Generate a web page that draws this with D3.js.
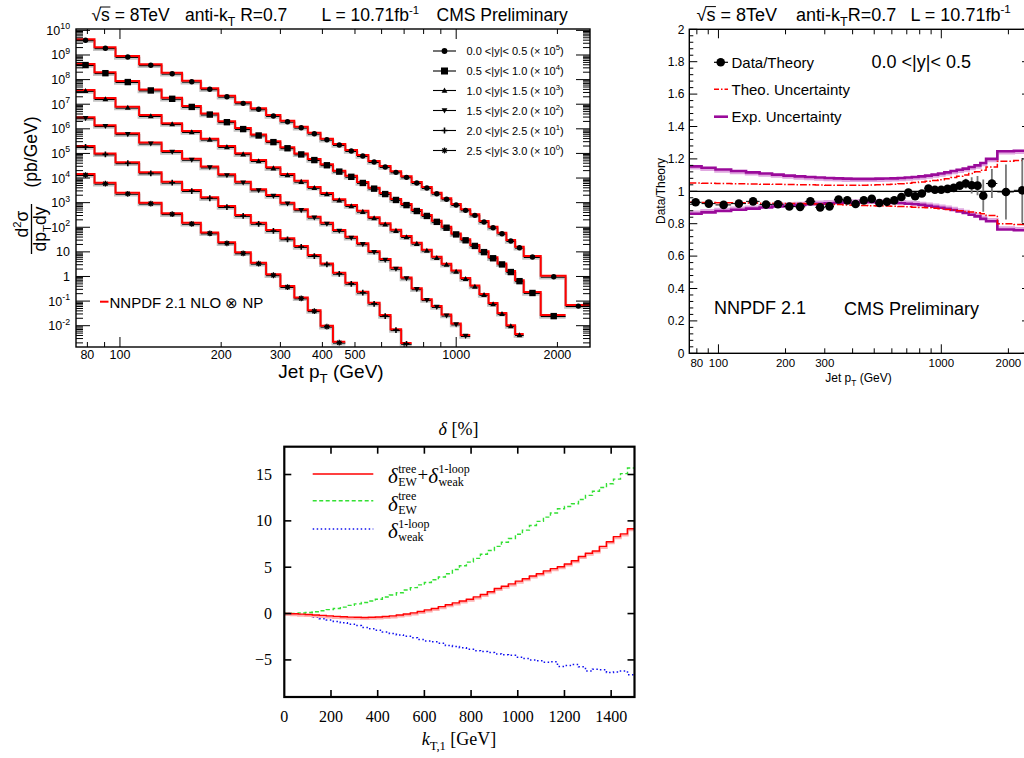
<!DOCTYPE html>
<html>
<head>
<meta charset="utf-8">
<script src="https://cdn.jsdelivr.net/npm/d3@7"></script>
<style>
html,body{margin:0;padding:0;background:#fff;}
svg{display:block;}
</style>
</head>
<body>
<svg id="chart" width="1024" height="758" xmlns="http://www.w3.org/2000/svg"></svg>
<script>
// ======================= DATA =======================
// jet pT bin edges (GeV)
const ptEdges = [74, 84, 97, 114, 133, 153, 174, 196, 220, 245, 272, 300, 330, 362, 395, 430, 468, 507, 548, 592, 638, 686, 737, 790, 846, 905, 967, 1032, 1101, 1172, 1248, 1327, 1410, 1497, 1588, 1784, 2116, 2500];
const rapRanges = ["0.0 <|y|< 0.5", "0.5 <|y|< 1.0", "1.0 <|y|< 1.5", "1.5 <|y|< 2.0", "2.0 <|y|< 2.5", "2.5 <|y|< 3.0"];
const scalePowers = [5, 4, 3, 2, 1, 0];
const markerTypes = ["circle", "square", "triUp", "triDown", "plus", "star"];
// d2sigma/dpT dy (pb/GeV), unscaled
const xsecY00 = [4.35e4, 2.06e4, 9.10e3, 4.19e3, 1.91e3, 902, 443, 222, 119, 68.1, 36.4, 21.3, 12.2, 6.93, 3.96, 2.41, 1.37, 0.861, 0.491, 0.308, 0.187, 0.117, 0.0687, 0.0431, 0.0252, 0.0150, 8.77e-3, 5.35e-3, 3.34e-3, 1.79e-3, 1.05e-3, 5.97e-4, 3.02e-4, 1.61e-4, 6.75e-5, 1.07e-5, 6.87e-7];
const xsecY05 = [4.27e4, 2.0e4, 8.71e3, 3.98e3, 1.82e3, 851, 417, 204, 107, 58.9, 31.6, 17.8, 10.0, 5.89, 3.63, 2.0, 1.23, 0.692, 0.407, 0.245, 0.141, 0.0871, 0.0501, 0.0316, 0.0182, 0.0105, 5.62e-3, 3.24e-3, 1.91e-3, 1.07e-3, 6.03e-4, 3.39e-4, 1.66e-4, 7.08e-5, 2.34e-5, 2.69e-6];
const xsecY10 = [3.80e4, 1.78e4, 7.94e3, 3.63e3, 1.70e3, 813, 398, 200, 102, 53.7, 27.5, 14.5, 7.76, 4.37, 2.45, 1.38, 0.794, 0.468, 0.257, 0.145, 0.0794, 0.0437, 0.0234, 0.0123, 6.31e-3, 3.31e-3, 1.74e-3, 8.71e-4, 4.27e-4, 1.95e-4, 8.32e-5, 3.31e-5, 1.05e-5, 4.57e-6];
const xsecY15 = [2.95e4, 1.41e4, 6.61e3, 2.75e3, 1.26e3, 603, 295, 141, 70.8, 34.7, 20.4, 10.0, 5.37, 2.69, 1.51, 0.776, 0.407, 0.224, 0.107, 0.0513, 0.0224, 9.12e-3, 3.31e-3, 1.20e-3, 6.31e-4, 2.82e-4, 1.23e-4, 4.17e-5];
const xsecY20 = [2.0e4, 1.0e4, 4.37e3, 1.70e3, 708, 324, 166, 72.4, 31.6, 15.1, 7.76, 3.55, 1.74, 0.741, 0.339, 0.141, 0.0550, 0.0240, 8.51e-3, 2.69e-3, 7.24e-4, 2.0e-4];
const xsecY25 = [1.45e4, 6.46e3, 2.51e3, 1.0e3, 372, 151, 61.7, 24.5, 9.55, 3.63, 1.23, 0.407, 0.141, 0.0427, 0.01, 2.24e-3];
const spectrumXTicks = [80, 100, 200, 300, 400, 500, 1000, 2000];

// ratio panel (0.0<|y|<0.5)
const dataOverTheory = [0.932, 0.924, 0.916, 0.924, 0.938, 0.918, 0.920, 0.906, 0.904, 0.938, 0.901, 0.907, 0.949, 0.944, 0.922, 0.944, 0.953, 0.928, 0.935, 0.944, 0.965, 0.992, 0.969, 0.986, 1.017, 1.010, 1.010, 1.015, 1.021, 1.035, 1.048, 1.037, 1.035, 0.973, 1.048, 0.996, 1.006];
const dataOverTheoryErr = [0.004, 0.004, 0.004, 0.004, 0.004, 0.004, 0.004, 0.004, 0.004, 0.004, 0.004, 0.004, 0.004, 0.005, 0.005, 0.005, 0.005, 0.005, 0.005, 0.006, 0.006, 0.007, 0.008, 0.009, 0.010, 0.011, 0.012, 0.014, 0.017, 0.020, 0.030, 0.050, 0.060, 0.100, 0.090, 0.170, 0.200];
const theoUncUp = [1.052, 1.050, 1.048, 1.046, 1.045, 1.044, 1.043, 1.042, 1.041, 1.040, 1.039, 1.038, 1.037, 1.037, 1.037, 1.038, 1.039, 1.040, 1.042, 1.044, 1.047, 1.050, 1.054, 1.058, 1.062, 1.067, 1.072, 1.078, 1.085, 1.093, 1.100, 1.110, 1.120, 1.130, 1.150, 1.185, 1.190];
const theoUncDown = [0.932, 0.931, 0.930, 0.929, 0.928, 0.927, 0.926, 0.925, 0.924, 0.923, 0.922, 0.920, 0.918, 0.916, 0.914, 0.912, 0.911, 0.910, 0.909, 0.908, 0.906, 0.904, 0.902, 0.900, 0.898, 0.895, 0.892, 0.888, 0.884, 0.880, 0.876, 0.872, 0.868, 0.862, 0.850, 0.800, 0.795];
const expUncUp = [1.154, 1.145, 1.135, 1.125, 1.117, 1.110, 1.103, 1.097, 1.092, 1.088, 1.085, 1.082, 1.080, 1.078, 1.077, 1.077, 1.077, 1.078, 1.079, 1.080, 1.082, 1.085, 1.088, 1.092, 1.097, 1.103, 1.110, 1.117, 1.125, 1.133, 1.140, 1.150, 1.160, 1.175, 1.200, 1.247, 1.250];
const expUncDown = [0.861, 0.870, 0.878, 0.886, 0.893, 0.900, 0.906, 0.911, 0.916, 0.920, 0.923, 0.926, 0.928, 0.930, 0.931, 0.932, 0.932, 0.931, 0.930, 0.928, 0.926, 0.923, 0.920, 0.916, 0.911, 0.905, 0.898, 0.892, 0.885, 0.876, 0.866, 0.855, 0.845, 0.830, 0.815, 0.764, 0.760];
const ratioXTicks = [80, 100, 200, 300, 1000, 2000];
const ratioYTicks = [0, 0.2, 0.4, 0.6, 0.8, 1, 1.2, 1.4, 1.6, 1.8, 2];

// EW corrections panel: 30 GeV bins from 0 to 1500
const ktBinWidth = 30;
const deltaSum = [0.0, -0.02, -0.06, -0.10, -0.15, -0.20, -0.25, -0.30, -0.34, -0.38, -0.40, -0.42, -0.40, -0.37, -0.32, -0.25, -0.15, -0.05, 0.08, 0.22, 0.40, 0.55, 0.75, 0.95, 1.15, 1.35, 1.55, 1.80, 2.05, 2.35, 2.70, 2.95, 3.20, 3.50, 3.75, 4.05, 4.30, 4.60, 4.85, 5.05, 5.35, 5.70, 6.15, 6.50, 6.75, 7.25, 7.75, 8.30, 8.60, 9.15];
const deltaTree = [0.0, 0.02, 0.06, 0.12, 0.20, 0.30, 0.42, 0.55, 0.70, 0.88, 1.05, 1.20, 1.35, 1.55, 1.78, 2.00, 2.25, 2.55, 2.80, 3.10, 3.35, 3.65, 3.95, 4.30, 4.75, 5.15, 5.55, 5.95, 6.40, 6.80, 7.25, 7.70, 8.10, 8.55, 9.00, 9.50, 9.95, 10.40, 10.85, 11.30, 11.55, 11.85, 12.30, 12.75, 13.20, 13.60, 14.00, 14.50, 15.10, 15.70];
const deltaWeak = [0.0, -0.05, -0.12, -0.25, -0.40, -0.55, -0.70, -0.85, -1.00, -1.15, -1.30, -1.50, -1.65, -1.80, -2.00, -2.15, -2.30, -2.45, -2.60, -2.80, -2.95, -3.05, -3.20, -3.45, -3.55, -3.70, -3.85, -4.00, -4.10, -4.20, -4.35, -4.45, -4.50, -4.70, -4.85, -5.00, -5.10, -5.25, -5.20, -5.70, -5.60, -5.50, -5.75, -6.20, -6.00, -6.05, -6.35, -6.30, -6.20, -6.60];
const deltaXTicks = [0, 200, 400, 600, 800, 1000, 1200, 1400];
const deltaYTicks = [-5, 0, 5, 10, 15];

// ======================= DRAWING =======================
const svg = d3.select('#chart');
const SANS = '"Liberation Sans", Arial, Helvetica, sans-serif';
const SERIF = '"Liberation Serif", "Times New Roman", serif';

function rich(parent, x, y, parts, size, opts) {
  opts = opts || {};
  const t = parent.append('text').attr('x', x).attr('y', y)
    .style('font-family', opts.family || SANS).style('font-size', size + 'px').attr('fill', '#000');
  if (opts.anchor) t.attr('text-anchor', opts.anchor);
  if (opts.italic) t.style('font-style', 'italic');
  let cur = 0;
  parts.forEach(p => {
    const target = p.sup ? -size * (p.shift || 0.42) : (p.sub ? size * (p.shift || 0.28) : 0);
    const ts = t.append('tspan').attr('dy', target - cur).text(p.t);
    cur = target;
    if (p.sup || p.sub) ts.style('font-size', (size * (p.scale || 0.65)) + 'px');
    if (p.italic) ts.style('font-style', 'italic');
  });
  return t;
}

function sqrtS(parent, x, y, size) {
  const t = parent.append('text').attr('x', x).attr('y', y)
    .style('font-family', SANS).style('font-size', size + 'px').text('√s = 8TeV');
  const n = t.node();
  const w1 = n.getSubStringLength(0, 1), w2 = n.getSubStringLength(1, 1);
  parent.append('line').attr('x1', x + w1 - 1).attr('x2', x + w1 + w2 + 0.5)
    .attr('y1', y - size * 0.8).attr('y2', y - size * 0.8).attr('stroke', '#000').attr('stroke-width', 1);
}

function drawMarker(g, type, cx, cy, s) {
  const k = '#000';
  if (type === 'circle') {
    g.append('circle').attr('cx', cx).attr('cy', cy).attr('r', s).attr('fill', k);
  } else if (type === 'square') {
    g.append('rect').attr('x', cx - s).attr('y', cy - s).attr('width', 2 * s).attr('height', 2 * s).attr('fill', k);
  } else if (type === 'triUp') {
    g.append('path').attr('d', `M${cx},${cy - s}L${cx + s},${cy + s * 0.75}L${cx - s},${cy + s * 0.75}Z`).attr('fill', k);
  } else if (type === 'triDown') {
    g.append('path').attr('d', `M${cx},${cy + s}L${cx + s},${cy - s * 0.75}L${cx - s},${cy - s * 0.75}Z`).attr('fill', k);
  } else if (type === 'plus') {
    g.append('path').attr('d', `M${cx - s},${cy}H${cx + s}M${cx},${cy - s}V${cy + s}`).attr('stroke', k).attr('stroke-width', 1.6).attr('fill', 'none');
  } else if (type === 'star') {
    const d = s * 0.72;
    g.append('path').attr('d', `M${cx - s},${cy}H${cx + s}M${cx},${cy - s}V${cy + s}M${cx - d},${cy - d}L${cx + d},${cy + d}M${cx - d},${cy + d}L${cx + d},${cy - d}`)
      .attr('stroke', k).attr('stroke-width', 1.3).attr('fill', 'none');
  }
}

function stepPoints(edges, vals) {
  const pts = vals.map((v, i) => [edges[i], v]);
  pts.push([edges[vals.length], vals[vals.length - 1]]);
  return pts;
}

function logTicks(domain) {
  const out = [];
  const e0 = Math.floor(Math.log10(domain[0])), e1 = Math.ceil(Math.log10(domain[1]));
  for (let e = e0; e <= e1; e++) for (let m = 1; m <= 9; m++) {
    const v = m * Math.pow(10, e);
    if (v >= domain[0] * 0.9999 && v <= domain[1] * 1.0001) out.push({ v: v, major: m === 1 });
  }
  return out;
}

// ---------------- Panel 1: spectra ----------------
(function () {
  const P = { l: 76, r: 590, t: 29, b: 347 };
  const x = d3.scaleLog().domain([74, 2500]).range([P.l, P.r]);
  const yDom = [Math.pow(10, -2.866), Math.pow(10, 10.056)];
  const y = d3.scaleLog().domain(yDom).range([P.b, P.t]);
  const g = svg.append('g');
  svg.append('clipPath').attr('id', 'clip1').append('rect').attr('x', P.l).attr('y', P.t).attr('width', P.r - P.l).attr('height', P.b - P.t);
  const gd = g.append('g').attr('clip-path', 'url(#clip1)');

  const series = [xsecY00, xsecY05, xsecY10, xsecY15, xsecY20, xsecY25];
  const line = d3.line().x(d => x(d[0])).y(d => y(d[1])).curve(d3.curveStepAfter);
  series.forEach((vals, s) => {
    const f = Math.pow(10, scalePowers[s]);
    const scaled = vals.map(v => v * f);
    const pts = stepPoints(ptEdges, scaled);
    gd.append('path').attr('d', line(pts)).attr('transform', 'translate(0,2.2)')
      .attr('fill', 'none').attr('stroke', '#c4c4c4').attr('stroke-width', 3);
    scaled.forEach((v, i) => {
      gd.append('line').attr('x1', x(ptEdges[i])).attr('x2', x(ptEdges[i + 1]))
        .attr('y1', y(v) + 1.4).attr('y2', y(v) + 1.4).attr('stroke', '#000').attr('stroke-width', 1.1);
    });
    gd.append('path').attr('d', line(pts)).attr('fill', 'none').attr('stroke', '#ff0000').attr('stroke-width', 2);
    scaled.forEach((v, i) => {
      const cx = x((ptEdges[i] + ptEdges[i + 1]) / 2);
      const sz = markerTypes[s] === 'square' ? 3.2 : (markerTypes[s] === 'circle' ? 2.7 : 2.9);
      drawMarker(gd, markerTypes[s], cx, y(v) + 1, sz);
    });
  });

  g.append('rect').attr('x', P.l).attr('y', P.t).attr('width', P.r - P.l).attr('height', P.b - P.t)
    .attr('fill', 'none').attr('stroke', '#000').attr('stroke-width', 1.4);
  logTicks(yDom).forEach(t => {
    const yy = y(t.v), L = t.major ? 14 : 7;
    g.append('line').attr('x1', P.l).attr('x2', P.l + L).attr('y1', yy).attr('y2', yy).attr('stroke', '#000').attr('stroke-width', 1);
    g.append('line').attr('x1', P.r).attr('x2', P.r - L).attr('y1', yy).attr('y2', yy).attr('stroke', '#000').attr('stroke-width', 1);
  });
  for (let e = -2; e <= 10; e++) {
    const yy = y(Math.pow(10, e));
    if (e === 0) rich(g, 70, yy + 4.5, [{ t: '1' }], 12.5, { anchor: 'end' });
    else if (e === 1) rich(g, 70, yy + 4.5, [{ t: '10' }], 12.5, { anchor: 'end' });
    else rich(g, 70, yy + 4.5, [{ t: '10' }, { t: String(e), sup: true, scale: 0.7, shift: 0.45 }], 12.5, { anchor: 'end' });
  }
  logTicks([74, 2500]).forEach(t => {
    const xx = x(t.v), L = t.major ? 10 : 5;
    g.append('line').attr('x1', xx).attr('x2', xx).attr('y1', P.b).attr('y2', P.b - L).attr('stroke', '#000').attr('stroke-width', 1);
    g.append('line').attr('x1', xx).attr('x2', xx).attr('y1', P.t).attr('y2', P.t + L).attr('stroke', '#000').attr('stroke-width', 1);
  });
  spectrumXTicks.forEach(v => {
    g.append('text').attr('x', x(v)).attr('y', 359).attr('text-anchor', 'middle')
      .style('font-family', SANS).style('font-size', '12.5px').text(v);
  });
  rich(g, 331, 377.5, [{ t: 'Jet p' }, { t: 'T', sub: true, scale: 0.7, shift: 0.3 }, { t: ' (GeV)' }], 19, { anchor: 'middle' });
  const yt = g.append('g').attr('transform', 'rotate(-90)');
  rich(yt, -152, 37, [{ t: '(pb/GeV)' }], 17.5, { anchor: 'middle' });
  rich(yt, -224, 28, [{ t: 'd' }, { t: '2', sup: true, scale: 0.65 }, { t: 'σ' }], 17.5, { anchor: 'middle' });
  g.append('line').attr('x1', 31.5).attr('x2', 31.5).attr('y1', 204).attr('y2', 254).attr('stroke', '#000').attr('stroke-width', 1.3);
  rich(yt, -229, 46, [{ t: 'dp' }, { t: 'T', sub: true, scale: 0.65, shift: 0.3 }, { t: 'dy' }], 17.5, { anchor: 'middle' });

  sqrtS(svg, 91.5, 21, 17.5);
  rich(svg, 185, 21, [{ t: 'anti-k' }, { t: 'T', sub: true, scale: 0.7, shift: 0.3 }, { t: ' R=0.7' }], 17.5);
  rich(svg, 321.5, 21, [{ t: 'L = 10.71fb' }, { t: '-1', sup: true, scale: 0.65 }], 17.5);
  rich(svg, 436.5, 21, [{ t: 'CMS Preliminary' }], 17.5);

  const rows = [51, 71, 90.5, 110.5, 130.5, 150.5];
  rows.forEach((ry, s) => {
    g.append('line').attr('x1', 433).attr('x2', 456).attr('y1', ry).attr('y2', ry).attr('stroke', '#000').attr('stroke-width', 1.1);
    drawMarker(g, markerTypes[s], 444.5, ry, markerTypes[s] === 'square' ? 3.5 : 2.9);
    rich(g, 466.5, ry + 4, [{ t: rapRanges[s] + ' (× 10' }, { t: String(scalePowers[s]), sup: true, scale: 0.7 }, { t: ')' }], 11);
  });
  g.append('line').attr('x1', 100).attr('x2', 108.5).attr('y1', 301.7).attr('y2', 301.7).attr('stroke', '#ff0000').attr('stroke-width', 2);
  rich(g, 109.5, 307.5, [{ t: 'NNPDF 2.1 NLO ⊗ NP' }], 15);
})();

// ---------------- Panel 2: ratio ----------------
(function () {
  const P = { l: 689.3, r: 1030, t: 29.3, b: 353.3 };
  const x = d3.scaleLog().domain([74, 2500]).range([P.l, P.r]);
  const y = d3.scaleLinear().domain([0, 2]).range([P.b, P.t]);
  const g = svg.append('g');
  svg.append('clipPath').attr('id', 'clip2').append('rect').attr('x', P.l).attr('y', P.t).attr('width', P.r - P.l).attr('height', P.b - P.t);
  const gd = g.append('g').attr('clip-path', 'url(#clip2)');
  const line = d3.line().x(d => x(d[0])).y(d => y(d[1])).curve(d3.curveStepAfter);

  gd.append('line').attr('x1', P.l).attr('x2', P.r).attr('y1', y(1)).attr('y2', y(1)).attr('stroke', '#000').attr('stroke-width', 1.2);
  [expUncUp, expUncDown].forEach((vals, k) => {
    gd.append('path').attr('d', line(stepPoints(ptEdges, vals))).attr('transform', `translate(0,${k === 0 ? 2 : -2})`)
      .attr('fill', 'none').attr('stroke', '#e0a8e0').attr('stroke-width', 2.5);
    gd.append('path').attr('d', line(stepPoints(ptEdges, vals)))
      .attr('fill', 'none').attr('stroke', '#9a0a9a').attr('stroke-width', 2.6);
  });
  [theoUncUp, theoUncDown].forEach(vals => {
    gd.append('path').attr('d', line(stepPoints(ptEdges, vals)))
      .attr('fill', 'none').attr('stroke', '#ff0000').attr('stroke-width', 1.5).attr('stroke-dasharray', '7,2,1.5,2');
  });
  dataOverTheory.forEach((r, i) => {
    const cx = x((ptEdges[i] + ptEdges[i + 1]) / 2);
    const e = dataOverTheoryErr[i];
    gd.append('line').attr('x1', cx).attr('x2', cx).attr('y1', y(r - e)).attr('y2', y(r + e)).attr('stroke', '#777').attr('stroke-width', 1.8);
    gd.append('line').attr('x1', x(ptEdges[i])).attr('x2', x(ptEdges[i + 1])).attr('y1', y(r)).attr('y2', y(r)).attr('stroke', '#000').attr('stroke-width', 1);
    gd.append('circle').attr('cx', cx).attr('cy', y(r)).attr('r', 4.3).attr('fill', '#000');
  });

  g.append('rect').attr('x', P.l).attr('y', P.t).attr('width', P.r - P.l).attr('height', P.b - P.t)
    .attr('fill', 'none').attr('stroke', '#000').attr('stroke-width', 1.4);
  for (let i = 0; i <= 50; i++) {
    const v = i * 0.04, yy = y(v), major = (i % 5 === 0), L = major ? 8 : 4;
    g.append('line').attr('x1', P.l).attr('x2', P.l + L).attr('y1', yy).attr('y2', yy).attr('stroke', '#000').attr('stroke-width', 1);
    g.append('line').attr('x1', P.r).attr('x2', P.r - L).attr('y1', yy).attr('y2', yy).attr('stroke', '#000').attr('stroke-width', 1);
  }
  ratioYTicks.forEach(v => {
    g.append('text').attr('x', 684.5).attr('y', y(v) + 4.3).attr('text-anchor', 'end')
      .style('font-family', SANS).style('font-size', '12px').text(String(v));
  });
  logTicks([74, 2500]).forEach(t => {
    const xx = x(t.v), L = t.major ? 9 : 5;
    g.append('line').attr('x1', xx).attr('x2', xx).attr('y1', P.b).attr('y2', P.b - L).attr('stroke', '#000').attr('stroke-width', 1);
    g.append('line').attr('x1', xx).attr('x2', xx).attr('y1', P.t).attr('y2', P.t + L).attr('stroke', '#000').attr('stroke-width', 1);
  });
  ratioXTicks.forEach(v => {
    g.append('text').attr('x', x(v)).attr('y', 367).attr('text-anchor', 'middle')
      .style('font-family', SANS).style('font-size', '11.5px').text(v);
  });
  rich(g, 858.5, 382, [{ t: 'Jet p' }, { t: 'T', sub: true, scale: 0.7, shift: 0.3 }, { t: ' (GeV)' }], 12, { anchor: 'middle' });
  const yt = g.append('g').attr('transform', 'rotate(-90)');
  rich(yt, -191, 665, [{ t: 'Data/Theory' }], 12, { anchor: 'middle' });

  sqrtS(svg, 696.5, 21, 18);
  rich(svg, 796, 21, [{ t: 'anti-k' }, { t: 'T', sub: true, scale: 0.7, shift: 0.3 }, { t: 'R=0.7' }], 18);
  rich(svg, 910.5, 21, [{ t: 'L = 10.71fb' }, { t: '-1', sup: true, scale: 0.65 }], 18);

  g.append('line').attr('x1', 714).attr('x2', 728).attr('y1', 62.3).attr('y2', 62.3).attr('stroke', '#000').attr('stroke-width', 1.2);
  g.append('circle').attr('cx', 720.7).attr('cy', 62.3).attr('r', 4.3).attr('fill', '#000');
  rich(g, 731.5, 67.5, [{ t: 'Data/Theory' }], 15);
  g.append('line').attr('x1', 714).attr('x2', 728).attr('y1', 89.3).attr('y2', 89.3).attr('stroke', '#ff0000').attr('stroke-width', 1.5).attr('stroke-dasharray', '5,2,1.5,2');
  rich(g, 731.5, 94.5, [{ t: 'Theo. Uncertainty' }], 15);
  g.append('line').attr('x1', 714).attr('x2', 728).attr('y1', 116.7).attr('y2', 116.7).attr('stroke', '#9a0a9a').attr('stroke-width', 2.6);
  rich(g, 731.5, 121.5, [{ t: 'Exp. Uncertainty' }], 15);
  rich(g, 871.5, 67.5, [{ t: '0.0 <|y|< 0.5' }], 18);
  rich(g, 714, 313.5, [{ t: 'NNPDF 2.1' }], 18);
  rich(g, 844, 315, [{ t: 'CMS Preliminary' }], 18);
})();

// ---------------- Panel 3: EW corrections ----------------
(function () {
  const P = { l: 284.3, r: 634.5, t: 446.7, b: 697 };
  const x = d3.scaleLinear().domain([0, 1500]).range([P.l, P.r]);
  const y = d3.scaleLinear().domain([-9, 18]).range([P.b, P.t]);
  const g = svg.append('g');
  svg.append('clipPath').attr('id', 'clip3').append('rect').attr('x', P.l).attr('y', P.t).attr('width', P.r - P.l).attr('height', P.b - P.t);
  const gd = g.append('g').attr('clip-path', 'url(#clip3)');
  const ktEdges = d3.range(0, 1500 + ktBinWidth, ktBinWidth);
  const line = d3.line().x(d => x(d[0])).y(d => y(d[1])).curve(d3.curveStepAfter);

  gd.append('path').attr('d', line(stepPoints(ktEdges, deltaTree))).attr('fill', 'none')
    .attr('stroke', '#33e033').attr('stroke-width', 1.4).attr('stroke-dasharray', '4,2.5');
  gd.append('path').attr('d', line(stepPoints(ktEdges, deltaWeak))).attr('fill', 'none')
    .attr('stroke', '#1010f0').attr('stroke-width', 1.5).attr('stroke-dasharray', '1.5,2.5');
  gd.append('path').attr('d', line(stepPoints(ktEdges, deltaSum))).attr('transform', 'translate(0,1.3)').attr('fill', 'none')
    .attr('stroke', '#ffb0b0').attr('stroke-width', 2.5);
  gd.append('path').attr('d', line(stepPoints(ktEdges, deltaSum))).attr('fill', 'none')
    .attr('stroke', '#ff0000').attr('stroke-width', 1.4);

  g.append('rect').attr('x', P.l).attr('y', P.t).attr('width', P.r - P.l).attr('height', P.b - P.t)
    .attr('fill', 'none').attr('stroke', '#000').attr('stroke-width', 2.2);
  deltaXTicks.forEach(v => {
    const xx = x(v);
    if (v > 0) {
      g.append('line').attr('x1', xx).attr('x2', xx).attr('y1', P.b).attr('y2', P.b - 7).attr('stroke', '#000').attr('stroke-width', 1.6);
      g.append('line').attr('x1', xx).attr('x2', xx).attr('y1', P.t).attr('y2', P.t + 7).attr('stroke', '#000').attr('stroke-width', 1.6);
    }
    g.append('text').attr('x', xx).attr('y', 722).attr('text-anchor', 'middle')
      .style('font-family', SERIF).style('font-size', '16px').text(v);
  });
  deltaYTicks.forEach(v => {
    const yy = y(v);
    g.append('line').attr('x1', P.l).attr('x2', P.l + 7).attr('y1', yy).attr('y2', yy).attr('stroke', '#000').attr('stroke-width', 1.6);
    g.append('line').attr('x1', P.r).attr('x2', P.r - 7).attr('y1', yy).attr('y2', yy).attr('stroke', '#000').attr('stroke-width', 1.6);
    g.append('text').attr('x', 272).attr('y', yy + 5.5).attr('text-anchor', 'end')
      .style('font-family', SERIF).style('font-size', '16px').text(v < 0 ? '−' + Math.abs(v) : String(v));
  });
  rich(g, 458.5, 435, [{ t: 'δ', italic: true }, { t: ' [%]' }], 18, { anchor: 'middle', family: SERIF });
  rich(g, 459, 745, [{ t: 'k', italic: true }, { t: 'T,1', sub: true, scale: 0.7, shift: 0.25 }, { t: ' [GeV]' }], 18, { anchor: 'middle', family: SERIF });

  // δ with stacked super/subscripts, as one text element
  function deltaSym(x0, yb, sup, sub) {
    const t = g.append('text').style('font-family', SERIF).attr('fill', '#000');
    t.append('tspan').attr('x', x0).attr('y', yb).style('font-size', '21px').style('font-style', 'italic').text('δ');
    const w = t.node().getComputedTextLength();
    const xs = x0 + w + 0.5;
    t.append('tspan').attr('x', xs).attr('y', yb - 10.5).style('font-size', '12px').text(sup);
    t.append('tspan').attr('x', xs).attr('y', yb + 3).style('font-size', '12px').text(sub);
    const n = t.node();
    const wsup = n.getSubStringLength(1, sup.length);
    const wsub = n.getSubStringLength(1 + sup.length, sub.length);
    return xs + Math.max(wsup, wsub);
  }
  g.append('line').attr('x1', 312.7).attr('x2', 373.3).attr('y1', 474).attr('y2', 474).attr('stroke', '#ff0000').attr('stroke-width', 1.4);
  let xe = deltaSym(388, 483, 'tree', 'EW');
  const plus = g.append('text').attr('x', xe + 0.5).attr('y', 481).style('font-family', SERIF).style('font-size', '19px').text('+');
  xe = xe + 0.5 + plus.node().getComputedTextLength();
  deltaSym(xe, 483, '1-loop', 'weak');
  g.append('line').attr('x1', 312.7).attr('x2', 373.3).attr('y1', 500.7).attr('y2', 500.7).attr('stroke', '#33e033').attr('stroke-width', 1.4).attr('stroke-dasharray', '4,2.5');
  deltaSym(388, 510.5, 'tree', 'EW');
  g.append('line').attr('x1', 312.7).attr('x2', 373.3).attr('y1', 529).attr('y2', 529).attr('stroke', '#1010f0').attr('stroke-width', 1.5).attr('stroke-dasharray', '1.5,2.5');
  deltaSym(388, 538, '1-loop', 'weak');
})();
</script>
</body>
</html>
